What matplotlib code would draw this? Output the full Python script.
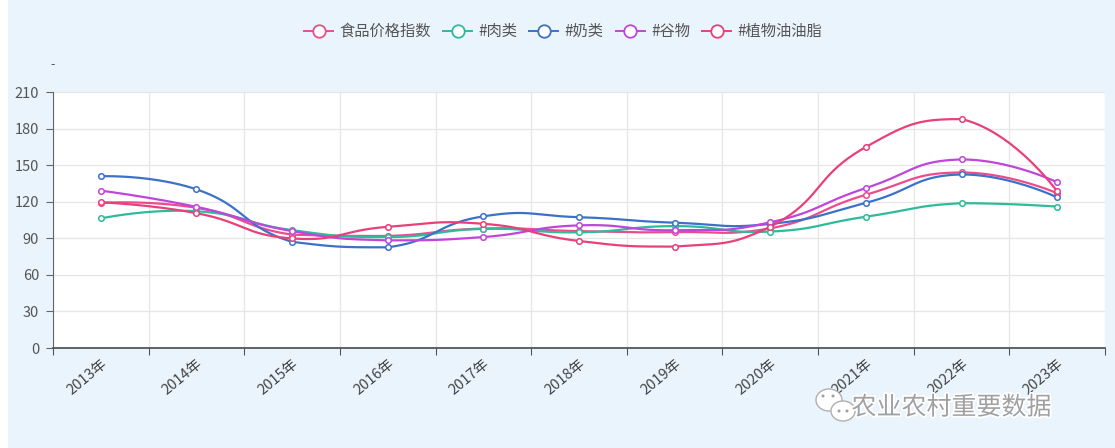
import numpy as np
import matplotlib
matplotlib.use('Agg')
import matplotlib.pyplot as plt
from matplotlib.lines import Line2D
from matplotlib.patches import Ellipse, Rectangle
import matplotlib.patheffects as pe

plt.rcParams['font.family'] = ['Noto Sans CJK SC', 'DejaVu Sans']

# data
years = ['2013年', '2014年', '2015年', '2016年', '2017年', '2018年',
         '2019年', '2020年', '2021年', '2022年', '2023年']
food    = [119.1, 115.0, 93.0, 91.9, 98.0, 95.9, 95.1, 98.1, 125.7, 144.0, 127.0]
meat    = [106.3, 112.2, 96.7, 91.0, 97.7, 94.9, 100.0, 95.5, 107.7, 118.8, 116.0]
dairy   = [140.9, 130.2, 87.1, 82.6, 108.0, 107.3, 102.8, 101.8, 119.1, 142.4, 123.6]
cereals = [129.1, 115.8, 95.9, 88.3, 91.0, 100.6, 96.6, 103.1, 131.2, 154.7, 136.0]
vegoil  = [119.5, 110.6, 89.9, 99.4, 101.9, 87.8, 83.2, 99.4, 164.9, 187.8, 128.5]

names  = ['食品价格指数', '#肉类', '#奶类', '#谷物', '#植物油油脂']
series = [food, meat, dairy, cereals, vegoil]
colors = ['#EC4C8C', '#2DBB9A', '#3B72C8', '#C045DB', '#E8407A']

BG = '#EAF4FD'

# pixel scale used for the smoothing (px per x unit / y unit)
SX, SY = 95.6, 1.219


def smooth_line(xs, ys, smooth=0.5, n=40):
    # bezier smoothing, control points kept inside the series bounding box
    P = np.column_stack([np.asarray(xs, float) * SX, np.asarray(ys, float) * SY])
    lo, hi = P.min(axis=0), P.max(axis=0)
    m = len(P)
    cps = []
    for i in range(m):
        p = P[i]
        if i == 0 or i == m - 1:
            cps.append((p.copy(), p.copy()))
            continue
        prev, nxt = P[i - 1], P[i + 1]
        v = (nxt - prev) * smooth
        d0 = np.hypot(*(p - prev))
        d1 = np.hypot(*(p - nxt))
        s = d0 + d1
        d0, d1 = d0 / s, d1 / s
        c0 = np.clip(p - v * d0, lo, hi)
        c1 = np.clip(p + v * d1, lo, hi)
        cps.append((c0, c1))
    t = np.linspace(0, 1, n)[:, None]
    out = []
    for i in range(m - 1):
        a, b = P[i], P[i + 1]
        c1, c2 = cps[i][1], cps[i + 1][0]
        out.append(((1 - t) ** 3) * a + 3 * ((1 - t) ** 2) * t * c1
                   + 3 * (1 - t) * t ** 2 * c2 + t ** 3 * b)
    out = np.vstack(out)
    return out[:, 0] / SX, out[:, 1] / SY


fig = plt.figure(figsize=(11.15, 4.48), dpi=100, facecolor=BG)
fig.patches.append(Rectangle((0, 0), 8 / 1115, 1, transform=fig.transFigure,
                             facecolor='white', edgecolor='none', zorder=0))
ax = fig.add_axes([0.0475, 0.2232, 0.9435, 0.5714])
ax.set_facecolor('white')

x = np.arange(len(years))
for vals, c in zip(series, colors):
    sx, sy = smooth_line(x, vals)
    ax.plot(sx, sy, color=c, lw=1.6, zorder=3, solid_capstyle='round')
    ax.plot(x, vals, ls='none', marker='o', ms=4, mfc='white', mec=c, mew=1.1, zorder=4)

ax.set_xlim(-0.5, len(years) - 0.5)
ax.set_ylim(0, 210)
ax.set_yticks(np.arange(0, 211, 30))
ax.set_xticks(np.arange(-0.5, len(years), 1.0))
ax.set_xticklabels([])
ax.set_xticks(x, minor=True)
ax.set_xticklabels(years, minor=True, rotation=40, ha='right', va='top',
                   rotation_mode='anchor', fontsize=10.5, color='#444444')
ax.tick_params(axis='x', which='minor', length=0, pad=6)
ax.tick_params(axis='x', which='major', length=5, color='#555555')
ax.tick_params(axis='y', length=5, color='#666666', labelsize=10.5, labelcolor='#555555', pad=5)

ax.grid(True, which='major', color='#E6E6E6', lw=0.9, zorder=0)
for s in ['top', 'right']:
    ax.spines[s].set_visible(False)
ax.spines['left'].set_color('#666666')
ax.spines['bottom'].set_color('#555555')
ax.spines['bottom'].set_linewidth(1.3)

handles = [Line2D([0], [0], color=c, lw=1.4, marker='o', ms=9, mfc='white', mec=c, mew=1.3)
           for c in colors]
fig.legend(handles, names, loc='center', bbox_to_anchor=(0.505, 0.93), ncol=5,
           frameon=False, fontsize=11, handlelength=1.9, handletextpad=0.4,
           columnspacing=0.8, labelcolor='#555555')

fig.text(0.047, 0.855, '-', fontsize=9, color='#555555', ha='center', va='center')

# watermark
fig.text(0.943, 0.09, '农业农村重要数据', fontsize=18, color='#A0A0A0', ha='right', va='center',
         path_effects=[pe.withStroke(linewidth=2.5, foreground='white')])
for cx, cy, w, h in [(829, 400, 26, 22), (843, 411, 24, 20)]:
    fig.patches.append(Ellipse((cx / 1115, 1 - cy / 448), w / 1115, h / 448,
                               transform=fig.transFigure, facecolor='white',
                               edgecolor='#B0B0B0', lw=1.0))
for dx, dy in [(823, 396), (833, 396), (839, 411), (847, 411)]:
    fig.patches.append(Ellipse((dx / 1115, 1 - dy / 448), 3 / 1115, 3 / 448,
                               transform=fig.transFigure, facecolor='#A0A0A0',
                               edgecolor='none'))

fig.savefig('out.png', dpi=100, facecolor=BG)
